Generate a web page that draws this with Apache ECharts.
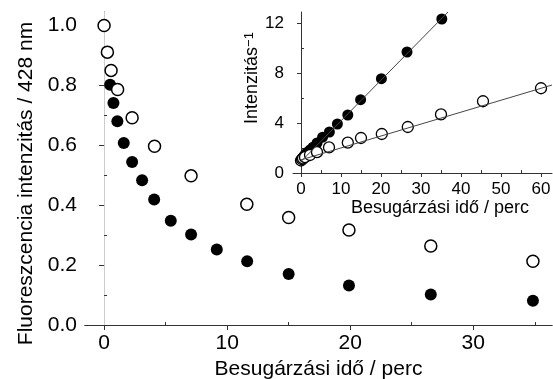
<!DOCTYPE html>
<html>
<head>
<meta charset="utf-8">
<script src="https://cdn.jsdelivr.net/npm/echarts@6/dist/echarts.min.js"></script>
<style>
  html, body { margin: 0; padding: 0; background: #fff; }
  #chart { width: 553px; height: 379px; }
</style>
</head>
<body>
<div id="chart"></div>
<script>
// Main plot: fluorescence intensity vs. irradiation time
const timeOpen = [0, 0.27, 0.57, 1.1, 2.28, 4.1, 7.07, 11.6, 15.0, 19.9, 26.55, 34.85];
const intOpen = [1.0, 0.911, 0.85, 0.786, 0.692, 0.597, 0.498, 0.403, 0.359, 0.317, 0.264, 0.213];
const timeFilled = [0.49, 0.76, 1.08, 1.6, 2.28, 3.09, 4.07, 5.42, 7.07, 9.16, 11.63, 15.0, 19.9, 26.55, 34.85];
const intFilled = [0.802, 0.741, 0.68, 0.608, 0.544, 0.483, 0.419, 0.348, 0.302, 0.252, 0.213, 0.17, 0.132, 0.102, 0.081];

// Inset: inverse intensity vs. time, with linear fits
const insetTimeFilled = [0, 0.5, 0.75, 1, 1.5, 2.25, 3, 4, 5.4, 7.1, 9.1, 11.7, 14.9, 20.1, 26.5, 35.2];
const insetInvFilled = [1.0, 1.25, 1.35, 1.47, 1.64, 1.84, 2.07, 2.4, 2.87, 3.28, 3.92, 4.64, 5.87, 7.55, 9.68, 12.32];
const insetTimeOpen = [0, 0.25, 0.5, 1, 2.25, 4, 7, 11.7, 15, 20.2, 26.7, 35, 45.5, 60];
const insetInvOpen = [1.0, 1.1, 1.17, 1.27, 1.44, 1.67, 2.05, 2.43, 2.8, 3.12, 3.68, 4.69, 5.74, 6.78];
const fitFilledX = [0, 36.75];
const fitFilledY = [0.92, 12.88];
const fitOpenX = [0, 62.75];
const fitOpenY = [1.05, 7.04];

// Tick values
const mainXTicks = [0, 10, 20, 30];
const mainXMinor = [5, 15, 25, 35];
const mainYTicks = [0, 0.2, 0.4, 0.6, 0.8, 1.0];
const mainYMinor = [0.1, 0.3, 0.5, 0.7, 0.9];
const insetXTicks = [0, 10, 20, 30, 40, 50, 60];
const insetXMinor = [5, 15, 25, 35, 45, 55];
const insetYTicks = [0, 4, 8, 12];
const insetYMinor = [2, 6, 10];

const zip = (xs, ys) => xs.map((x, i) => [x, ys[i]]);

const axisColor = '#333';
const font = 'Liberation Sans, Arial, sans-serif';

function majorAxis(extra) {
  return Object.assign({
    type: 'value',
    axisLine: { show: true, lineStyle: { color: axisColor, width: 1 } },
    splitLine: { show: false },
    nameTextStyle: { color: '#000', fontFamily: font }
  }, extra);
}

function minorAxis(extra, values) {
  return Object.assign({
    type: 'value',
    axisLine: { show: false },
    axisTick: { show: true, customValues: values, length: 3, lineStyle: { color: axisColor } },
    axisLabel: { show: false },
    splitLine: { show: false }
  }, extra);
}

const chart = echarts.init(document.getElementById('chart'));

chart.setOption({
  animation: false,
  grid: [
    { left: 85, top: 12, right: 1, bottom: 54, outerBoundsMode: 'none' },
    { left: 293, top: 12, right: 1, bottom: 206, outerBoundsMode: 'none' }
  ],
  xAxis: [
    majorAxis({
      gridIndex: 0, min: -1.55, max: 36.4,
      axisTick: { customValues: mainXTicks, length: 5, lineStyle: { color: axisColor } },
      axisLabel: { customValues: mainXTicks, fontSize: 21, color: '#000', margin: 8, fontFamily: font },
      name: 'Besugárzási idő / perc', nameLocation: 'middle', nameGap: 28,
      nameTextStyle: { fontSize: 21, color: '#000', fontFamily: font }
    }),
    minorAxis({ gridIndex: 0, min: -1.55, max: 36.4 }, mainXMinor),
    {
      type: 'value', gridIndex: 0, position: 'top', min: -1.55, max: 36.4,
      axisLine: { show: true, lineStyle: { color: axisColor } },
      axisTick: { show: false }, axisLabel: { show: false }, splitLine: { show: false }
    },
    majorAxis({
      gridIndex: 1, min: -2, max: 62.75,
      axisTick: { customValues: insetXTicks, length: 4, lineStyle: { color: axisColor } },
      axisLabel: { customValues: insetXTicks, fontSize: 17, color: '#000', margin: 8, fontFamily: font },
      name: 'Besugárzási idő / perc', nameLocation: 'middle', nameGap: 25,
      nameTextStyle: { fontSize: 18, color: '#000', fontFamily: font, padding: [0, 0, 0, 35] }
    }),
    minorAxis({ gridIndex: 1, min: -2, max: 62.75 }, insetXMinor)
  ],
  yAxis: [
    majorAxis({
      gridIndex: 0, min: 0, max: 1.045,
      axisTick: { customValues: mainYTicks, length: 5, lineStyle: { color: axisColor } },
      axisLabel: {
        customValues: mainYTicks, fontSize: 21, color: '#000', margin: 8, fontFamily: font,
        formatter: v => v.toFixed(1)
      },
      name: 'Fluoreszcencia intenzitás / 428 nm', nameLocation: 'middle', nameGap: 48,
      nameTextStyle: { fontSize: 21, color: '#000', fontFamily: font, padding: [0, 30, 0, 0] }
    }),
    minorAxis({ gridIndex: 0, min: 0, max: 1.045 }, mainYMinor),
    {
      type: 'value', gridIndex: 0, position: 'right', min: 0, max: 1.045,
      axisLine: { show: true, lineStyle: { color: '#ccc' } },
      axisTick: { show: false }, axisLabel: { show: false }, splitLine: { show: false }
    },
    majorAxis({
      gridIndex: 1, min: 0, max: 12.88,
      axisTick: { customValues: insetYTicks, length: 4, lineStyle: { color: axisColor } },
      axisLabel: { customValues: insetYTicks, fontSize: 17, color: '#000', margin: 9, fontFamily: font },
      name: 'Intenzitás{sup|−1}', nameLocation: 'middle', nameGap: 22,
      nameTextStyle: {
        fontSize: 18, color: '#000', fontFamily: font, padding: [0, 0, 0, 29],
        rich: { sup: { fontSize: 13, verticalAlign: 'top', fontFamily: font, color: '#000' } }
      }
    }),
    minorAxis({ gridIndex: 1, min: 0, max: 12.88 }, insetYMinor)
  ],
  series: [
    {
      type: 'scatter', xAxisIndex: 0, yAxisIndex: 0, symbolSize: 12,
      itemStyle: { color: '#000', opacity: 1 },
      data: zip(timeFilled, intFilled)
    },
    {
      type: 'scatter', xAxisIndex: 0, yAxisIndex: 0, symbolSize: 12,
      itemStyle: { color: '#fff', borderColor: '#000', borderWidth: 1.5, opacity: 1 },
      data: zip(timeOpen, intOpen)
    },
    {
      type: 'line', xAxisIndex: 3, yAxisIndex: 3, symbol: 'none',
      lineStyle: { color: '#444', width: 1 },
      data: zip(fitFilledX, fitFilledY)
    },
    {
      type: 'line', xAxisIndex: 3, yAxisIndex: 3, symbol: 'none',
      lineStyle: { color: '#444', width: 1 },
      data: zip(fitOpenX, fitOpenY)
    },
    {
      type: 'scatter', xAxisIndex: 3, yAxisIndex: 3, symbolSize: 11,
      itemStyle: { color: '#000', opacity: 1 },
      data: zip(insetTimeFilled, insetInvFilled)
    },
    {
      type: 'scatter', xAxisIndex: 3, yAxisIndex: 3, symbolSize: 11,
      itemStyle: { color: '#fff', borderColor: '#000', borderWidth: 1.3, opacity: 1 },
      data: zip(insetTimeOpen, insetInvOpen)
    }
  ]
});
</script>
</body>
</html>
